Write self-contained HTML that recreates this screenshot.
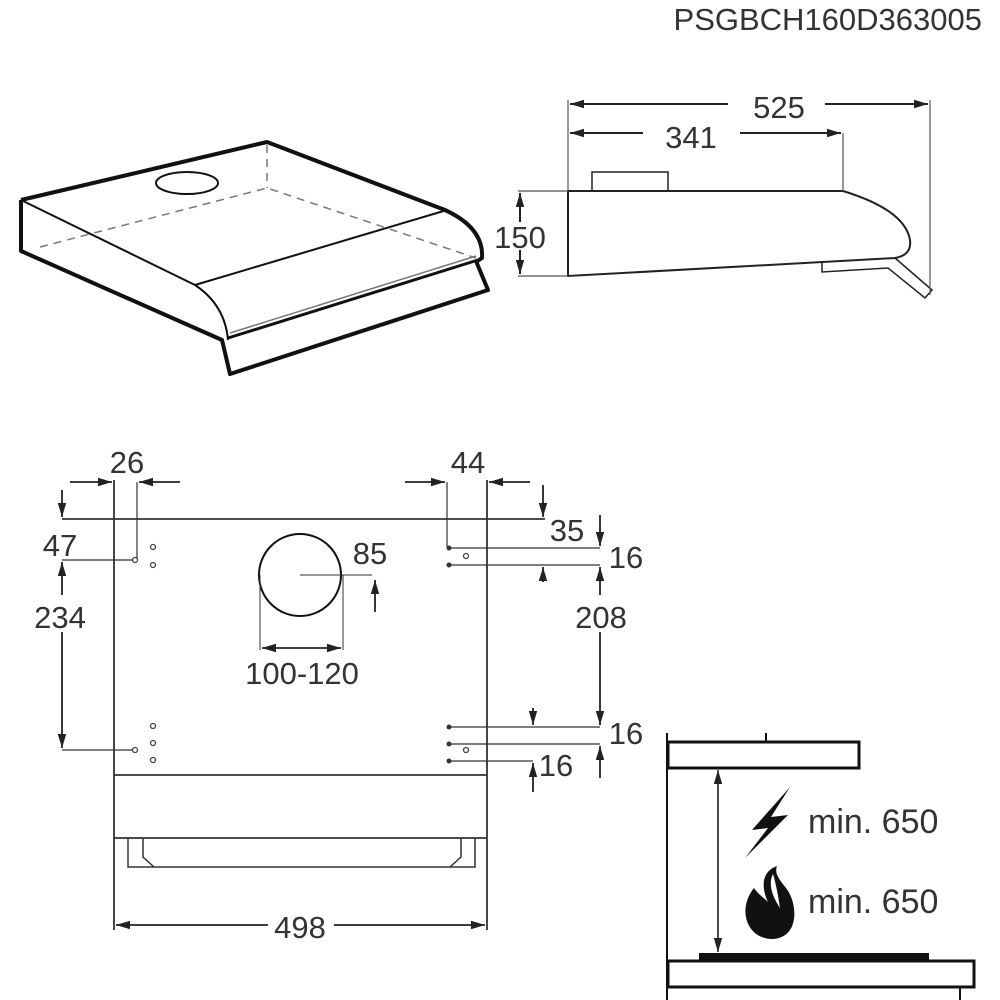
<!DOCTYPE html>
<html><head><meta charset="utf-8"><style>
html,body{margin:0;padding:0;background:#fff;width:1000px;height:1000px;overflow:hidden}
svg{display:block}
text{font-family:"Liberation Sans",sans-serif;fill:#333}
</style></head><body>
<svg width="1000" height="1000" viewBox="0 0 1000 1000" xmlns="http://www.w3.org/2000/svg">
<defs>
<marker id="b" viewBox="0 0 10 10" refX="10" refY="5" markerWidth="14" markerHeight="14" markerUnits="userSpaceOnUse" orient="auto-start-reverse"><path d="M0,2 L10,5 L0,8z" fill="#222"/></marker>
</defs>
<text x="982" y="30" font-size="31" text-anchor="end">PSGBCH160D363005</text>

<!-- ISO view -->
<g fill="none" stroke="#111" stroke-linejoin="round">
<path d="M21,200 L267,142 L445,210 Q484,228 482,258 L476,262" stroke-width="4"/>
<path d="M21,200 L21,251 L222,340 L230,374 L488,290 L476,261" stroke-width="4"/>
<path d="M21,200 L195,285 L447,210" stroke-width="2"/>
<path d="M195,285 Q225,305 228,340" stroke-width="2"/>
<path d="M228,338 L478,260" stroke-width="3"/>
<path d="M230,333 L476,256" stroke-width="1.5" stroke="#777"/>
<ellipse cx="187" cy="183" rx="31" ry="11" stroke-width="2"/>
<path d="M40,247 L267,188 L476,258 M267,145 L267,188" stroke="#777" stroke-width="1.5" stroke-dasharray="8,6"/>
</g>

<!-- Side view -->
<g fill="none" stroke="#222">
<path d="M568,191 L843,191 Q905,210 910,240 Q912,255 895,258 L568,276 Z" stroke-width="2"/>
<rect x="592" y="172" width="76" height="19" stroke-width="1.5"/>
<path d="M822,261 L822,272 L888,268 L925,298 L932,290 L895,258" stroke-width="1.5"/>
<path d="M568,100 V191 M930,100 V295 M843,133 V191 M518,191 H568 M518,276 H568" stroke-width="1.2" stroke="#555"/>
<path d="M728,104 H570" stroke-width="2" marker-end="url(#b)"/>
<path d="M825,104 H928" stroke-width="2" marker-end="url(#b)"/>
<path d="M643,133 H570" stroke-width="2" marker-end="url(#b)"/>
<path d="M740,133 H841" stroke-width="2" marker-end="url(#b)"/>
<path d="M520,222 V193" stroke-width="2" marker-end="url(#b)"/>
<path d="M520,250 V274" stroke-width="2" marker-end="url(#b)"/>
</g>
<g font-size="31" text-anchor="middle">
<text x="779" y="118">525</text>
<text x="691" y="148">341</text>
<text x="520" y="248">150</text>
</g>

<!-- Front view -->
<g fill="none" stroke="#333">
<path d="M62,519 H545 M114,480 V930 M487,480 V930" stroke-width="1.8"/>
<path d="M114,838 H487 M114,775 H487" stroke-width="1.8"/>
<path d="M128,838 V867 H475 V838 M143,838 V857 L154,867 M461,838 V857 L450,867" stroke-width="1.5"/>
<circle cx="300" cy="575" r="41" stroke-width="2" stroke="#111"/>
<path d="M300,575 H372 M260,575 V650 M343,575 V650" stroke-width="1"/>
<path d="M137,482 V560 M62,560 H135 M62,750 H135 M447,482 V547 M449,548 H600 M449,565 H600 M449,727 H600 M449,744 H600 M449,761 H533" stroke-width="1.2"/>
<g stroke="#222" stroke-width="1.8">
<path d="M70,482 H112" marker-end="url(#b)"/>
<path d="M180,482 H139" marker-end="url(#b)"/>
<path d="M405,482 H445" marker-end="url(#b)"/>
<path d="M530,482 H489" marker-end="url(#b)"/>
<path d="M62,490 V517" marker-end="url(#b)"/>
<path d="M62,595 V562" marker-end="url(#b)"/>
<path d="M62,632 V748" marker-end="url(#b)"/>
<path d="M543,485 V517" marker-end="url(#b)"/>
<path d="M600,515 V546" marker-end="url(#b)"/>
<path d="M543,582 V567" marker-end="url(#b)"/>
<path d="M600,595 V567" marker-end="url(#b)"/>
<path d="M600,632 V725" marker-end="url(#b)"/>
<path d="M533,708 V725" marker-end="url(#b)"/>
<path d="M600,778 V746" marker-end="url(#b)"/>
<path d="M533,792 V763" marker-end="url(#b)"/>
<path d="M375,612 V580" marker-end="url(#b)"/>
<path d="M300,648 H262" marker-end="url(#b)"/>
<path d="M300,648 H341" marker-end="url(#b)"/>
<path d="M268,925 H116" marker-end="url(#b)"/>
<path d="M334,925 H485" marker-end="url(#b)"/>
</g>
</g>
<g fill="#fff" stroke="#444" stroke-width="1.3">
<circle cx="135" cy="560" r="2.5"/><circle cx="153" cy="547" r="2.5"/><circle cx="153" cy="565" r="2.5"/>
<circle cx="153" cy="726" r="2.5"/><circle cx="153" cy="743" r="2.5"/><circle cx="153" cy="760" r="2.5"/><circle cx="135" cy="750" r="2.5"/>
<circle cx="466" cy="556" r="2.5"/><circle cx="466" cy="750" r="2.5"/>
</g>
<g fill="#333">
<circle cx="449" cy="548" r="2.5"/><circle cx="449" cy="565" r="2.5"/>
<circle cx="449" cy="727" r="2.5"/><circle cx="449" cy="744" r="2.5"/><circle cx="449" cy="761" r="2.5"/>
</g>
<g font-size="31" text-anchor="middle">
<text x="127" y="473">26</text>
<text x="468" y="473">44</text>
<text x="60" y="556">47</text>
<text x="60" y="628">234</text>
<text x="370" y="564">85</text>
<text x="302" y="684">100-120</text>
<text x="567" y="541">35</text>
<text x="626" y="568">16</text>
<text x="601" y="628">208</text>
<text x="626" y="744">16</text>
<text x="556" y="776">16</text>
<text x="300" y="938">498</text>
</g>

<!-- Clearance diagram -->
<g fill="none" stroke="#111">
<rect x="668" y="742" width="191" height="26" stroke-width="3"/>
<path d="M667,733 V1000 M766,733 V742 M960,987 V1000" stroke-width="2"/>
<rect x="668" y="961" width="306" height="26" stroke-width="3"/>
<path d="M718,790 V770" stroke-width="1.5" marker-end="url(#b)"/>
<path d="M718,790 V952" stroke-width="1.5" marker-end="url(#b)"/>
</g>
<rect x="699" y="953" width="230" height="8" fill="#111"/>
<path d="M790,787 L752,830 L768,828 L745,858 L788,815 L771,817 Z" fill="#111"/>
<path d="M777,866 C760,872 762,890 768,902 C764,898 758,894 754,888 C744,900 742,918 752,930 C762,942 782,942 790,930 C798,918 794,898 786,888 C780,880 774,874 777,866 Z" fill="#111"/>
<path d="M773,874 C768,884 772,896 780,908 C778,895 776,884 773,874 Z" fill="#fff"/>
<text x="808" y="833" font-size="34">min. 650</text>
<text x="808" y="913" font-size="34">min. 650</text>
</svg>
</body></html>
